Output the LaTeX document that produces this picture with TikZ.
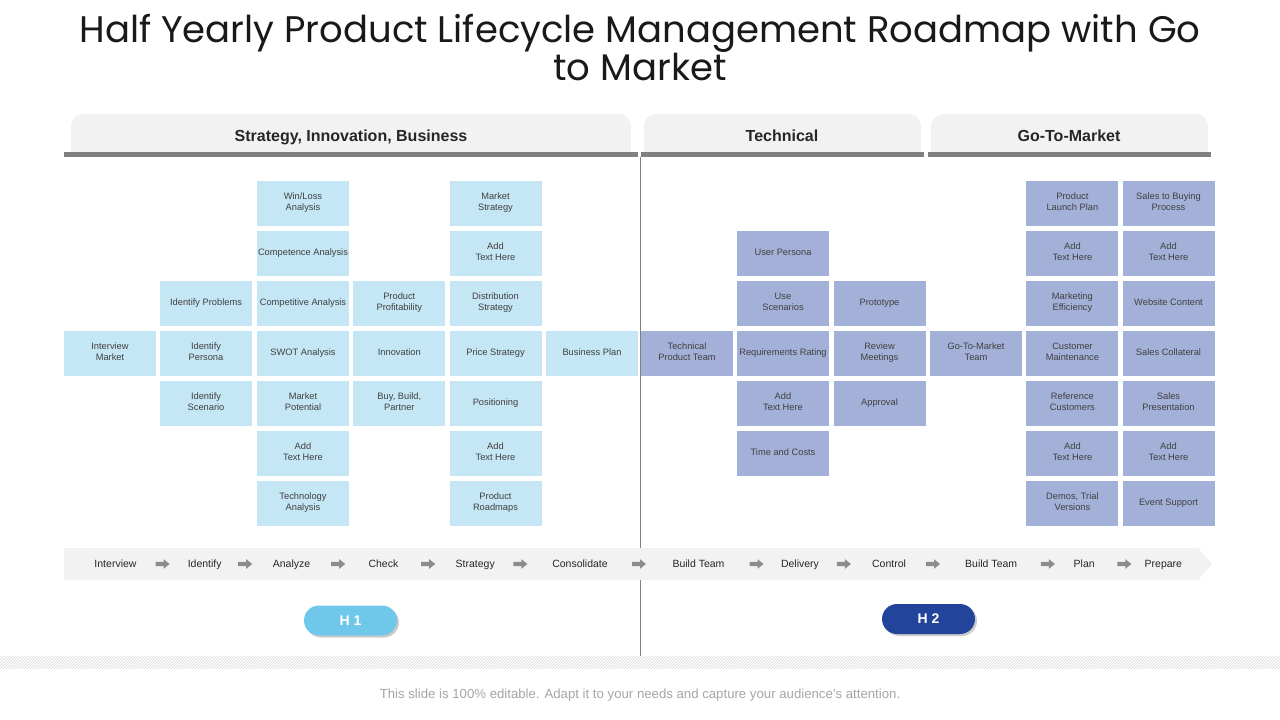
\documentclass[tikz,border=0pt]{standalone}
\usepackage{fontspec}
\setmainfont{Liberation Sans}
\newfontfamily\titlefont{Poppins}
\usetikzlibrary{patterns,shadows}
\definecolor{lb}{HTML}{C5E6F5}
\definecolor{pb}{HTML}{A3B1D8}
\definecolor{txt}{HTML}{404040}
\definecolor{dark}{HTML}{262626}
\definecolor{tabgray}{HTML}{F2F2F2}
\definecolor{bargray}{HTML}{808080}
\definecolor{arrgray}{HTML}{8C8C8C}
\definecolor{h1c}{HTML}{6FC8EA}
\definecolor{h2c}{HTML}{22449B}
\definecolor{footgray}{HTML}{A6A6A6}
\definecolor{hatchline}{HTML}{D6D6D6}
\begin{document}
\begin{tikzpicture}[x=1pt,y=-1pt,
  cell/.style={minimum width=92pt,minimum height=45.5pt,inner sep=0pt,align=center,text=txt,font=\fontsize{9.3}{11}\selectfont,execute at begin node=\strut,execute at end node=\strut},
  lcell/.style={cell,fill=lb},
  pcell/.style={cell,fill=pb},
  tabtext/.style={font=\bfseries\fontsize{16}{18}\selectfont,text=dark,text height=11.5pt,text depth=0pt},
  steplabel/.style={font=\fontsize{10.5}{12}\selectfont,text=dark,inner sep=0pt,text height=7.5pt,text depth=0pt},
  pill/.style={rounded corners=15pt,minimum width=93pt,minimum height=30pt,inner sep=0pt,text=white,font=\bfseries\fontsize{14}{16}\selectfont,drop shadow={shadow xshift=2pt,shadow yshift=-2pt,opacity=0.2,fill=black}},
  barr/.pic={\fill[arrgray] (-7,-2.2) -- (1,-2.2) -- (1,-4.8) -- (7,0) -- (1,4.8) -- (1,2.2) -- (-7,2.2) -- cycle;}
]
\useasboundingbox (0,0) rectangle (1280,720);
\fill[white] (0,0) rectangle (1280,720);

% title
\node[font=\titlefont\fontsize{37}{38}\selectfont,align=center,text=black!90] (title) at (640,48)
  {Half Yearly Product Lifecycle Management Roadmap with Go\\to Market};

% header tabs
\fill[tabgray,rounded corners=12pt] (71,114) rectangle (631,153);
\fill[tabgray] (71,135) rectangle (631,153);
\fill[tabgray,rounded corners=12pt] (644,114) rectangle (921,153);
\fill[tabgray] (644,135) rectangle (921,153);
\fill[tabgray,rounded corners=12pt] (931,114) rectangle (1208,153);
\fill[tabgray] (931,135) rectangle (1208,153);
\node[tabtext] (tab1) at (351,136) {Strategy, Innovation, Business};
\node[tabtext] (tab2) at (782,136) {Technical};
\node[tabtext] (tab3) at (1069,136) {Go-To-Market};
\fill[bargray] (64,152) rectangle (638,157);
\fill[bargray] (641,152) rectangle (924,157);
\fill[bargray] (928,152) rectangle (1211,157);

% divider
\draw[bargray,line width=0.9pt] (640,157) -- (640,668);

% left cells
\node[lcell] (intmarket) at (110,353.5) {Interview\\Market};
\node[lcell] (idprob) at (206,303.5) {Identify Problems};
\node[lcell] (idpers) at (206,353.5) {Identify\\Persona};
\node[lcell] (idscen) at (206,403.5) {Identify\\Scenario};
\node[lcell] (winloss) at (303,203.5) {Win/Loss\\Analysis};
\node[lcell] (compet) at (303,253.5) {Competence Analysis};
\node[lcell] (competit) at (303,303.5) {Competitive Analysis};
\node[lcell] (swot) at (303,353.5) {SWOT Analysis};
\node[lcell] (mpot) at (303,403.5) {Market\\Potential};
\node[lcell] (addA) at (303,453.5) {Add\\Text Here};
\node[lcell] (tech) at (303,503.5) {Technology\\Analysis};
\node[lcell] (prodprof) at (399.3,303.5) {Product\\Profitability};
\node[lcell] (innov) at (399.3,353.5) {Innovation};
\node[lcell] (buy) at (399.3,403.5) {Buy, Build,\\Partner};
\node[lcell] (mstrat) at (495.5,203.5) {Market\\Strategy};
\node[lcell] (addB) at (495.5,253.5) {Add\\Text Here};
\node[lcell] (dist) at (495.5,303.5) {Distribution\\Strategy};
\node[lcell] (price) at (495.5,353.5) {Price Strategy};
\node[lcell] (posit) at (495.5,403.5) {Positioning};
\node[lcell] (addC) at (495.5,453.5) {Add\\Text Here};
\node[lcell] (roadm) at (495.5,503.5) {Product\\Roadmaps};
\node[lcell] (bplan) at (592,353.5) {Business Plan};

% right cells
\node[pcell] (techteam) at (687,353.5) {Technical\\Product Team};
\node[pcell] (userp) at (783,253.5) {User Persona};
\node[pcell] (usesc) at (783,303.5) {Use\\Scenarios};
\node[pcell] (reqr) at (783,353.5) {Requirements Rating};
\node[pcell] (addD) at (783,403.5) {Add\\Text Here};
\node[pcell] (timec) at (783,453.5) {Time and Costs};
\node[pcell] (proto) at (879.5,303.5) {Prototype};
\node[pcell] (review) at (879.5,353.5) {Review\\Meetings};
\node[pcell] (approv) at (879.5,403.5) {Approval};
\node[pcell] (gtmteam) at (976,353.5) {Go-To-Market\\Team};
\node[pcell] (launch) at (1072.4,203.5) {Product\\Launch Plan};
\node[pcell] (addE) at (1072.4,253.5) {Add\\Text Here};
\node[pcell] (mkteff) at (1072.4,303.5) {Marketing\\Efficiency};
\node[pcell] (custm) at (1072.4,353.5) {Customer\\Maintenance};
\node[pcell] (refc) at (1072.4,403.5) {Reference\\Customers};
\node[pcell] (addF) at (1072.4,453.5) {Add\\Text Here};
\node[pcell] (demos) at (1072.4,503.5) {Demos, Trial\\Versions};
\node[pcell] (salesbuy) at (1168.5,203.5) {Sales to Buying\\Process};
\node[pcell] (addG) at (1168.5,253.5) {Add\\Text Here};
\node[pcell] (webc) at (1168.5,303.5) {Website Content};
\node[pcell] (salescol) at (1168.5,353.5) {Sales Collateral};
\node[pcell] (salespres) at (1168.5,403.5) {Sales\\Presentation};
\node[pcell] (addH) at (1168.5,453.5) {Add\\Text Here};
\node[pcell] (event) at (1168.5,503.5) {Event Support};

% process bar
\fill[tabgray] (64,548) -- (1198,548) -- (1212,564) -- (1198,580) -- (64,580) -- cycle;
\node[steplabel] (s1) at (115.5,564) {Interview};
\node[steplabel] (s2) at (204.7,564) {Identify};
\node[steplabel] (s3) at (291.5,564) {Analyze};
\node[steplabel] (s4) at (383.4,564) {Check};
\node[steplabel] (s5) at (475.2,564) {Strategy};
\node[steplabel] (s6) at (580,564) {Consolidate};
\node[steplabel] (s7) at (698.5,564) {Build Team};
\node[steplabel] (s8) at (800,564) {Delivery};
\node[steplabel] (s9) at (889,564) {Control};
\node[steplabel] (s10) at (991.2,564) {Build Team};
\node[steplabel] (s11) at (1084.2,564) {Plan};
\node[steplabel] (s12) at (1163.4,564) {Prepare};
\foreach \ax in {162.6,245.2,338.2,428.2,520.4,639,756.6,843.9,933,1047.9,1124.4}
  \pic at (\ax,564) {barr};

% half-year pills
\node[pill,fill=h1c] (h1) at (350.5,620.5) {H 1};
\node[pill,fill=h2c] (h2) at (928.5,619) {H 2};

% hatched strip
\fill[white] (0,656) rectangle (1280,668);
\fill[pattern=north east lines,pattern color=hatchline] (0,656) rectangle (1280,668);

% footer
\node[text=footgray,font=\fontsize{13.2}{15}\selectfont] (foot) at (640,695)
  {This slide is 100\% editable. Adapt it to your needs and capture your audience’s attention.};
\end{tikzpicture}
\end{document}
